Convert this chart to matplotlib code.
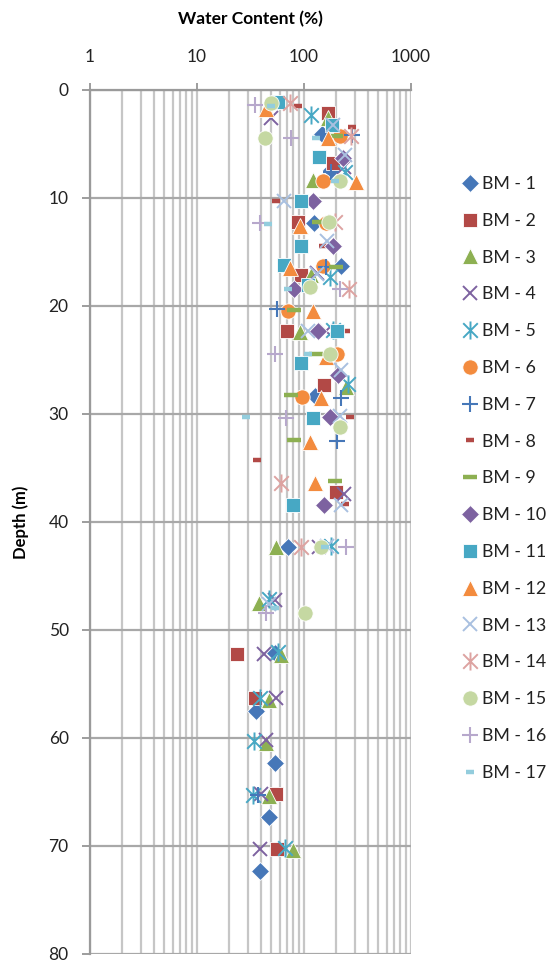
import matplotlib
matplotlib.use("Agg")
import matplotlib.pyplot as plt
from matplotlib.path import Path
from matplotlib.ticker import FixedLocator, NullFormatter

plt.rcParams['font.family'] = ['Lato', 'DejaVu Sans']

# Water content (%) and depth (m) for each borehole
bm1_wc = [150, 182, 125, 225, 127, 71, 53.6, 36, 53.6, 47.5, 39.4]
bm1_d = [4.1, 7.4, 12.3, 16.3, 28.3, 42.3, 52.1, 57.5, 62.3, 67.3, 72.3]
bm2_wc = [168, 187, 88, 95, 70, 157, 200, 24, 35.5, 55.6, 57]
bm2_d = [2.1, 6.8, 12.2, 17.1, 22.3, 27.3, 37.2, 52.2, 56.3, 65.2, 70.3]
bm3_wc = [171, 122, 118, 93, 250, 55.6, 38, 61, 47.5, 45, 48, 80]
bm3_d = [2.6, 8.3, 17.1, 22.4, 27.5, 42.3, 47.5, 52.3, 56.5, 60.5, 65.4, 70.4]
bm4_wc = [50, 237, 135, 163, 240, 141, 53.6, 43, 55.6, 45, 40, 38.8]
bm4_d = [2.6, 7.1, 16.9, 22.3, 37.4, 42.3, 47.2, 52.2, 56.3, 60.2, 65.2, 70.3]
bm5_wc = [118, 242, 175, 190, 260, 182, 48, 58, 39, 34.8, 34, 67]
bm5_d = [2.3, 7.6, 17.3, 22.2, 27.2, 42.2, 47.1, 52.0, 56.3, 60.3, 65.3, 70.2]
bm6_wc = [217, 151, 163, 151, 71, 205, 97]
bm6_d = [4.3, 8.4, 12.3, 16.3, 20.5, 24.4, 28.4]
bm7_wc = [287, 180, 163, 56, 222, 204, 37.5]
bm7_d = [4.2, 7.6, 16.4, 20.3, 28.5, 32.5, 65.3]
bm8_wc = [89, 287, 55, 153, 250, 273, 37, 242]
bm8_d = [1.5, 3.4, 10.3, 14.4, 22.3, 30.3, 34.3, 38.3]
bm9_wc = [203, 140, 202, 82, 131, 76, 82, 197]
bm9_d = [4.3, 12.2, 16.4, 20.4, 24.4, 28.2, 32.4, 36.2]
bm10_wc = [232, 122, 188, 82, 137, 208, 177, 155]
bm10_d = [6.3, 10.3, 14.4, 18.4, 22.3, 26.4, 30.3, 38.4]
bm11_wc = [58, 186, 141, 95, 95, 66, 109, 204, 95, 122, 79]
bm11_d = [1.1, 3.2, 6.2, 10.3, 14.4, 16.2, 18.1, 22.3, 25.3, 30.4, 38.4]
bm12_wc = [45, 171, 310, 93, 74, 124, 163, 147, 114, 128]
bm12_d = [1.8, 4.4, 8.5, 12.6, 16.5, 20.5, 24.7, 28.5, 32.6, 36.4]
bm13_wc = [187, 242, 66, 167, 135, 109, 225, 217, 225, 165, 48]
bm13_d = [3.2, 6.0, 10.3, 14.0, 17.0, 22.3, 25.9, 30.2, 38.4, 42.2, 47.6]
bm14_wc = [74, 278, 198, 265, 62, 95]
bm14_d = [1.2, 4.3, 12.2, 18.4, 36.4, 42.3]
bm15_wc = [50, 44, 217, 172, 116, 177, 220, 146, 104]
bm15_d = [1.2, 4.4, 8.4, 12.2, 18.2, 24.4, 31.2, 42.3, 48.4]
bm16_wc = [35, 76, 39, 217, 54.5, 68, 251, 45]
bm16_d = [1.4, 4.4, 12.3, 18.4, 24.4, 30.4, 42.3, 48.4]
bm17_wc = [50, 132, 195, 47, 71, 109, 29, 160, 53.6]
bm17_d = [1.5, 4.4, 8.4, 12.4, 18.4, 24.4, 30.3, 42.3, 48.0]

labels = [f"BM - {i}" for i in range(1, 18)]
wc_values = [bm1_wc, bm2_wc, bm3_wc, bm4_wc, bm5_wc, bm6_wc, bm7_wc, bm8_wc, bm9_wc,
             bm10_wc, bm11_wc, bm12_wc, bm13_wc, bm14_wc, bm15_wc, bm16_wc, bm17_wc]
depths = [bm1_d, bm2_d, bm3_d, bm4_d, bm5_d, bm6_d, bm7_d, bm8_d, bm9_d,
          bm10_d, bm11_d, bm12_d, bm13_d, bm14_d, bm15_d, bm16_d, bm17_d]

x_ticks = [1, 10, 100, 1000]
y_ticks = list(range(0, 81, 10))

# Asterisk marker: an X crossed by a vertical stroke
star = Path([(-0.5, -0.5), (0.5, 0.5), (-0.5, 0.5), (0.5, -0.5), (0, -0.62), (0, 0.62)],
            [Path.MOVETO, Path.LINETO, Path.MOVETO, Path.LINETO, Path.MOVETO, Path.LINETO])

blue, red, green, purple, aqua, orange = '#4677B8', '#B24946', '#8DB052', '#7D62A0', '#47A8C4', '#F38B3E'
styles = [
    dict(marker='D', color=blue, ms=9.5),
    dict(marker='s', color=red, ms=10.5),
    dict(marker='^', color=green, ms=11),
    dict(marker='x', color=purple, ms=10, mew=1.4),
    dict(marker=star, color=aqua, ms=13, mew=1.4),
    dict(marker='o', color=orange, ms=11),
    dict(marker='+', color=blue, ms=11, mew=1.5),
    dict(marker='_', color=red, ms=6, mew=3.2),
    dict(marker='_', color=green, ms=10, mew=3.2),
    dict(marker='D', color=purple, ms=9.5),
    dict(marker='s', color=aqua, ms=10.5),
    dict(marker='^', color=orange, ms=11),
    dict(marker='x', color='#A9C0E0', ms=10, mew=1.4),
    dict(marker=star, color='#DDA3A1', ms=13, mew=1.4),
    dict(marker='o', color='#C5D8A2', ms=11),
    dict(marker='+', color='#B7A8CC', ms=11, mew=1.5),
    dict(marker='_', color='#93CDDD', ms=6, mew=3.2),
]

fig = plt.figure(figsize=(5.48, 9.6), dpi=100)
ax = fig.add_axes([89.5 / 548, 6 / 960, 321 / 548, 864 / 960])

handles = []
for wc, d, lab, st in zip(wc_values, depths, labels, styles):
    kw = dict(linestyle='none', marker=st['marker'], markersize=st['ms'],
              markerfacecolor=st['color'], markeredgecolor=st['color'])
    if 'mew' in st:
        kw['markeredgewidth'] = st['mew']
    else:
        kw['markeredgewidth'] = 0.6
        kw['markeredgecolor'] = 'white'
    h, = ax.plot(wc, d, label=lab, zorder=3, **kw)
    handles.append(h)

ax.set_xscale('log')
ax.set_xlim(1, 1000)
ax.set_ylim(80, 0)

ax.xaxis.set_major_locator(FixedLocator(x_ticks))
ax.set_xticklabels([str(t) for t in x_ticks])
ax.xaxis.set_minor_formatter(NullFormatter())
ax.set_yticks(y_ticks)

ax.xaxis.tick_top()
ax.xaxis.set_label_position('top')
ax.tick_params(axis='x', which='major', direction='out', length=5, width=1.2,
               color='#8C8C8C', pad=13, labelsize=12.5, labelcolor='#222222')
ax.tick_params(axis='x', which='minor', length=0)
ax.tick_params(axis='y', direction='out', length=6, width=1.2, color='#8C8C8C',
               pad=9, labelsize=12.5, labelcolor='#222222')

ax.grid(True, axis='x', which='both', color='#C6C6C6', linewidth=1.6, zorder=0)
ax.grid(True, axis='y', which='major', color='#A8A8A8', linewidth=1.6, zorder=0)
ax.set_axisbelow(True)
for side in ['right', 'bottom']:
    ax.spines[side].set_visible(False)
for side in ['left', 'top']:
    ax.spines[side].set_color('#9A9A9A')
    ax.spines[side].set_linewidth(1.6)

ax.set_xlabel('Water Content (%)', fontsize=12.5, fontweight='bold', labelpad=18)
ax.set_ylabel('Depth (m)', fontsize=12, fontweight='bold')
ax.yaxis.set_label_coords(-0.19, 0.5)

leg = ax.legend(handles=handles, loc='upper left', bbox_to_anchor=(461 / 548, 1 - 176 / 960),
                bbox_transform=fig.transFigure, frameon=False, fontsize=12.8,
                handlelength=1.0, handletextpad=0.18, labelspacing=1.17,
                borderpad=0, borderaxespad=0, numpoints=1)
for t in leg.get_texts():
    t.set_color('#222222')

fig.savefig('out.png', dpi=100, facecolor='white')
